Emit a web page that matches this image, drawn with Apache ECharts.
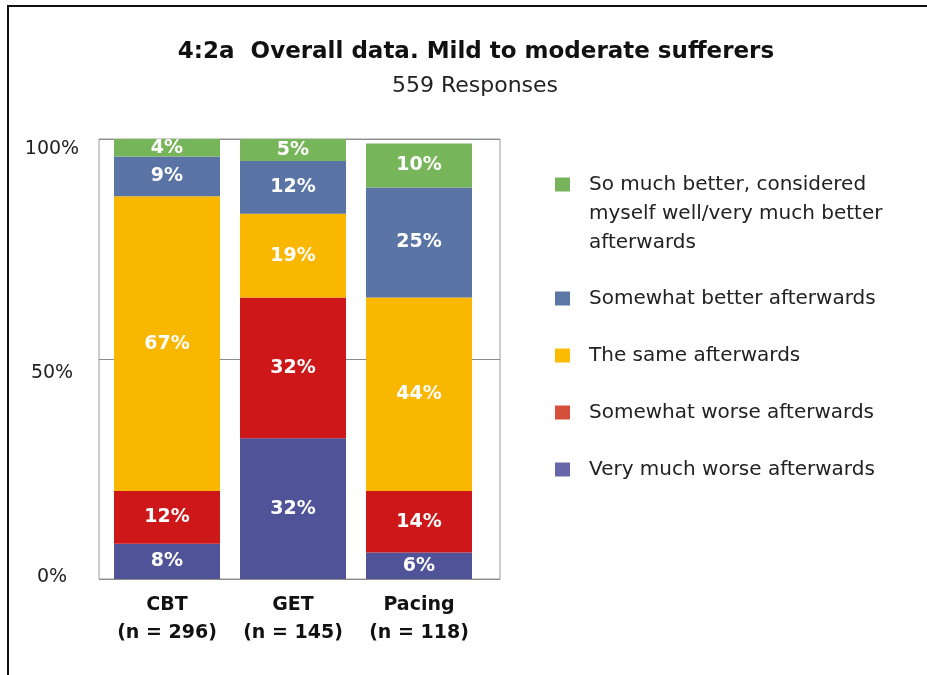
<!DOCTYPE html>
<html>
<head>
<meta charset="utf-8">
<script src="https://cdn.jsdelivr.net/npm/echarts@6/dist/echarts.min.js"></script>
<style>
  html, body { margin: 0; padding: 0; background: #ffffff; }
  #chart { width: 927px; height: 675px; }
</style>
</head>
<body>
<div id="chart"></div>
<script>
// Treatment groups and their sample sizes
const categories = ['CBT', 'GET', 'Pacing'];
const sampleSizes = [296, 145, 118];

// Response shares (%) per group, bottom of the stack first
const veryMuchWorse = [8, 32, 6];
const somewhatWorse = [12, 32, 14];
const theSame = [67, 19, 44];
const somewhatBetter = [9, 12, 25];
const soMuchBetter = [4, 5, 10];

const yTicks = [0, 50, 100];

const FONT = 'DejaVu Sans';

const seriesDefs = [
  { name: 'Very much worse afterwards', data: veryMuchWorse, color: '#505397', legendColor: '#6666a8' },
  { name: 'Somewhat worse afterwards', data: somewhatWorse, color: '#cd1719', legendColor: '#d64f3c' },
  { name: 'The same afterwards', data: theSame, color: '#fab700', legendColor: '#fbbb00' },
  { name: 'Somewhat better afterwards', data: somewhatBetter, color: '#5a74a5', legendColor: '#5b77a6' },
  { name: 'So much better, considered myself well/very much better afterwards', data: soMuchBetter, color: '#77b55a', legendColor: '#76b35a' }
];

// The long legend entry wraps onto three lines; two blank lines above keep
// its first line level with the legend square.
const wrapped = {
  'So much better, considered myself well/very much better afterwards':
    '\n\nSo much better, considered\nmyself well/very much better\nafterwards'
};

const chart = echarts.init(document.getElementById('chart'), null, { renderer: 'canvas' });

const legendText = {
  fontFamily: FONT, fontSize: 20, color: '#222222', lineHeight: 29
};

chart.setOption({
  backgroundColor: '#ffffff',
  animation: false,
  title: [
    {
      text: '4:2a  Overall data. Mild to moderate sufferers',
      left: 471, top: 36, textAlign: 'center',
      textStyle: { fontFamily: FONT, fontSize: 23, fontWeight: 'bold', color: '#111111' }
    },
    {
      text: '559 Responses',
      left: 470, top: 70, textAlign: 'center',
      textStyle: { fontFamily: FONT, fontSize: 22, fontWeight: 'normal', color: '#222222' }
    }
  ],
  legend: [
    {
      orient: 'vertical', left: 550, top: 107,
      itemWidth: 15, itemHeight: 14, icon: 'rect',
      selectedMode: false,
      data: [{ name: seriesDefs[4].name, itemStyle: { color: seriesDefs[4].legendColor } }],
      formatter: n => wrapped[n] || n,
      textStyle: Object.assign({ padding: [0, 0, 0, 14] }, legendText)
    },
    {
      orient: 'vertical', left: 550, top: 279,
      itemWidth: 15, itemHeight: 14, icon: 'rect', itemGap: 28,
      selectedMode: false,
      data: [3, 2, 1, 0].map(i => ({ name: seriesDefs[i].name, itemStyle: { color: seriesDefs[i].legendColor } })),
      textStyle: Object.assign({ padding: [0, 0, 0, 14] }, legendText)
    }
  ],
  graphic: [
    {
      type: 'rect', silent: true,
      shape: { x: 8, y: 6, width: 1000, height: 800 },
      style: { fill: 'none', stroke: '#111111', lineWidth: 2 }
    }
  ],
  grid: [
    { left: 99, top: 139, width: 401, height: 440, show: true, borderColor: '#9a9a9a', borderWidth: 1, containLabel: false },
    { left: 104, top: 139, width: 378, height: 440, containLabel: false }
  ],
  xAxis: [
    { type: 'category', gridIndex: 0, data: categories, show: false },
    {
      type: 'category', gridIndex: 1, data: categories,
      axisLine: { show: false }, axisTick: { show: false },
      axisLabel: {
        interval: 0, margin: 12,
        fontFamily: FONT, fontSize: 19, fontWeight: 'bold', color: '#111111', lineHeight: 28,
        formatter: (v, i) => v + '\n(n = ' + sampleSizes[i] + ')'
      }
    }
  ],
  yAxis: [
    {
      type: 'value', gridIndex: 0, min: yTicks[0], max: yTicks[2], interval: 50,
      axisLine: { show: false }, axisTick: { show: false },
      splitLine: { show: true, lineStyle: { color: '#8c8c8c', width: 1 } },
      axisLabel: {
        margin: 47, align: 'center',
        fontFamily: FONT, fontSize: 19, color: '#222222',
        formatter: v => '{' + (v === 0 ? 'b' : v === 50 ? 'm' : 't') + '|' + v + '%}',
        rich: {
          t: { fontFamily: FONT, fontSize: 19, color: '#222222', padding: [20, 0, 0, 0] },
          m: { fontFamily: FONT, fontSize: 19, color: '#222222', padding: [28, 0, 0, 0] },
          b: { fontFamily: FONT, fontSize: 19, color: '#222222', padding: [0, 0, 4, 0] }
        }
      }
    },
    { type: 'value', gridIndex: 1, min: 0, max: 100, show: false }
  ],
  series: seriesDefs.map(s => ({
    name: s.name,
    type: 'bar',
    stack: 'total',
    xAxisIndex: 1,
    yAxisIndex: 1,
    barWidth: 106,
    data: s.data,
    itemStyle: { color: s.color },
    label: {
      show: true, position: 'inside',
      fontFamily: FONT, fontSize: 19, fontWeight: 'bold', color: '#ffffff',
      formatter: p => p.value + '%'
    }
  }))
});
</script>
</body>
</html>
